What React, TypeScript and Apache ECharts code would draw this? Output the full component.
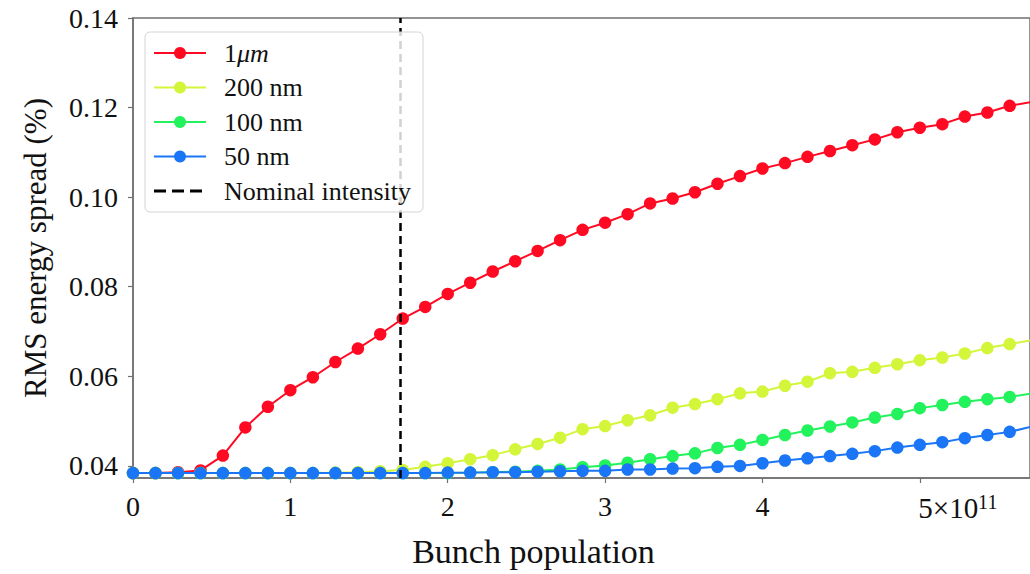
import React, { useEffect, useRef } from "react";
import * as echarts from "echarts";

// Bunch population (x 10^11)
const population = [
  0, 0.143, 0.286, 0.429, 0.571, 0.714, 0.857, 1.0, 1.143, 1.286, 1.429, 1.571, 1.714, 1.857,
  2.0, 2.143, 2.286, 2.429, 2.571, 2.714, 2.857, 3.0, 3.143, 3.286, 3.429, 3.571, 3.714, 3.857,
  4.0, 4.143, 4.286, 4.429, 4.571, 4.714, 4.857, 5.0, 5.143, 5.286, 5.429, 5.571, 5.714,
];

const spread1um = [
  0.0384, 0.0384, 0.0386, 0.039, 0.0423, 0.0486, 0.0532, 0.0569, 0.0598, 0.0632, 0.0662, 0.0694,
  0.0729, 0.0755, 0.0784, 0.0809, 0.0834, 0.0857, 0.088, 0.0904, 0.0927, 0.0943, 0.0962, 0.0986,
  0.0997, 0.1011, 0.103, 0.1047, 0.1064, 0.1076, 0.109, 0.1103, 0.1116, 0.1129, 0.1145, 0.1155,
  0.1163, 0.118, 0.1189, 0.1204, 0.1213,
];

const spread200nm = [
  0.0384, 0.0384, 0.0384, 0.0384, 0.0384, 0.0384, 0.0384, 0.0384, 0.0384, 0.0385, 0.0386, 0.0388,
  0.0391, 0.0398, 0.0406, 0.0415, 0.0424, 0.0437, 0.0449, 0.0463, 0.0482, 0.0489, 0.0502, 0.0513,
  0.053, 0.0538, 0.0549, 0.0562, 0.0566, 0.0579, 0.0588, 0.0607, 0.061, 0.0619, 0.0627, 0.0636,
  0.0642, 0.0651, 0.0663, 0.0672, 0.0681,
];

const spread100nm = [
  0.0384, 0.0384, 0.0384, 0.0384, 0.0384, 0.0384, 0.0384, 0.0384, 0.0384, 0.0384, 0.0384, 0.0384,
  0.0384, 0.0384, 0.0384, 0.0385, 0.0386, 0.0387, 0.0389, 0.0392, 0.0397, 0.0401, 0.0407, 0.0415,
  0.0422, 0.0428, 0.044, 0.0447, 0.0458, 0.0469, 0.0479, 0.0488, 0.0497, 0.0508, 0.0516, 0.0529,
  0.0536, 0.0543, 0.0549, 0.0554, 0.0562,
];

const spread50nm = [
  0.0384, 0.0384, 0.0384, 0.0384, 0.0384, 0.0384, 0.0384, 0.0384, 0.0384, 0.0384, 0.0384, 0.0384,
  0.0384, 0.0384, 0.0385, 0.0385, 0.0386, 0.0386, 0.0387, 0.0388, 0.0389, 0.0389, 0.0392, 0.0392,
  0.0394, 0.0395, 0.0398, 0.04, 0.0406, 0.0412, 0.0417, 0.0422, 0.0427, 0.0433, 0.0441, 0.0447,
  0.0453, 0.0462, 0.0469, 0.0476, 0.0488,
];

const nominalIntensity = 1.7;

const seriesNames = ["1μm", "200 nm", "100 nm", "50 nm"];
const seriesColors = ["#ff0a22", "#d3f53a", "#22f25c", "#1a76f6"];
const seriesValues = [spread1um, spread200nm, spread100nm, spread50nm];
const nominalName = "Nominal intensity";

const xTicks = [0, 1, 2, 3, 4, 5];
const yTicks = [0.04, 0.06, 0.08, 0.1, 0.12, 0.14];

const FONT = "Liberation Serif";

export default function App() {
  const ref = useRef<HTMLDivElement>(null);

  useEffect(() => {
    if (!ref.current) return;
    const chart = echarts.init(ref.current, null, { renderer: "svg" });

    const lineSeries = seriesNames.map((name, k) => ({
      name,
      type: "line",
      data: population.map((x, i) => [x, seriesValues[k][i]]),
      symbol: "circle",
      symbolSize: 12.5,
      color: seriesColors[k],
      lineStyle: { width: 2, color: seriesColors[k] },
      itemStyle: { color: seriesColors[k] },
      clip: true,
      z: 3 + k,
    }));

    const dashIcon =
      "path://M0,0h0.1v0.1h-0.1z M0,6h12v3h-12z M18,6h12v3h-12z M36,6h12v3h-12z M51.9,14.9h0.1v0.1h-0.1z";

    chart.setOption({
      animation: false,
      backgroundColor: "#ffffff",
      textStyle: { fontFamily: FONT },
      grid: {
        left: 133,
        right: 0,
        top: 18,
        bottom: 96,
        show: true,
        borderColor: "#707070",
        borderWidth: 1.5,
      },
      legend: {
        orient: "vertical",
        left: 145,
        top: 32,
        padding: [8, 12, 8, 8],
        itemWidth: 52,
        itemHeight: 15,
        itemGap: 8.5,
        selectedMode: false,
        backgroundColor: "rgba(255,255,255,0.82)",
        borderColor: "#d4d4d4",
        borderWidth: 1,
        borderRadius: 5,
        z: 10,
        data: [
          ...seriesNames.map((n) => ({ name: n })),
          { name: nominalName, icon: dashIcon, itemStyle: { color: "#000000" } },
        ],
        formatter: (name: string) => (name === "1μm" ? "1{i|μm}" : name),
        textStyle: {
          fontFamily: FONT,
          fontSize: 26,
          color: "#111111",
          lineHeight: 24,
          padding: [0, 0, 0, 13],
          rich: {
            i: { fontFamily: FONT, fontSize: 26, fontStyle: "italic", color: "#111111" },
          },
        },
      },
      xAxis: {
        type: "value",
        min: 0,
        max: 5.7,
        name: "Bunch population",
        nameLocation: "middle",
        nameGap: 56,
        nameTextStyle: {
          fontFamily: FONT,
          fontSize: 34,
          color: "#111111",
          padding: [0, 96, 0, 0],
        },
        axisLine: { show: true, lineStyle: { color: "#707070", width: 1.5 } },
        axisTick: {
          show: true,
          inside: false,
          length: 5,
          customValues: xTicks,
          lineStyle: { color: "#707070", width: 1.2 },
        },
        axisLabel: {
          customValues: xTicks,
          margin: 14,
          fontFamily: FONT,
          fontSize: 28,
          color: "#111111",
          formatter: (v: number) => (v === 5 ? "{p| }{b|5×10}{s|11}" : String(v)),
          rich: {
            p: { width: 76, fontSize: 28, fontFamily: FONT },
            b: { fontFamily: FONT, fontSize: 29, color: "#111111", lineHeight: 32 },
            s: { fontFamily: FONT, fontSize: 20, color: "#111111", verticalAlign: "top" },
          },
        },
        splitLine: { show: false },
      },
      yAxis: {
        type: "value",
        min: 0.0373,
        max: 0.14,
        name: "RMS energy spread (%)",
        nameLocation: "middle",
        nameGap: 82,
        nameTextStyle: { fontFamily: FONT, fontSize: 31, color: "#111111" },
        axisLine: { show: true, lineStyle: { color: "#707070", width: 1.5 } },
        axisTick: {
          show: true,
          inside: false,
          length: 5,
          customValues: yTicks,
          lineStyle: { color: "#707070", width: 1.2 },
        },
        axisLabel: {
          customValues: yTicks,
          margin: 15,
          fontFamily: FONT,
          fontSize: 28,
          color: "#111111",
          formatter: (v: number) => v.toFixed(2),
        },
        splitLine: { show: false },
      },
      series: [
        ...lineSeries,
        {
          name: nominalName,
          type: "line",
          data: [],
          color: "#000000",
          itemStyle: { color: "#000000" },
          lineStyle: { color: "#000000", type: [8, 5], width: 2.5 },
          z: 8,
          markLine: {
            silent: true,
            symbol: ["none", "none"],
            label: { show: false },
            lineStyle: { color: "#000000", type: [8, 5], width: 2.5 },
            data: [{ xAxis: nominalIntensity }],
            z: 8,
          },
        },
      ],
    });

    return () => chart.dispose();
  }, []);

  return (
    <div
      ref={ref}
      style={{ position: "fixed", left: 0, top: 0, width: 1030, height: 574, background: "#fff" }}
    />
  );
}
